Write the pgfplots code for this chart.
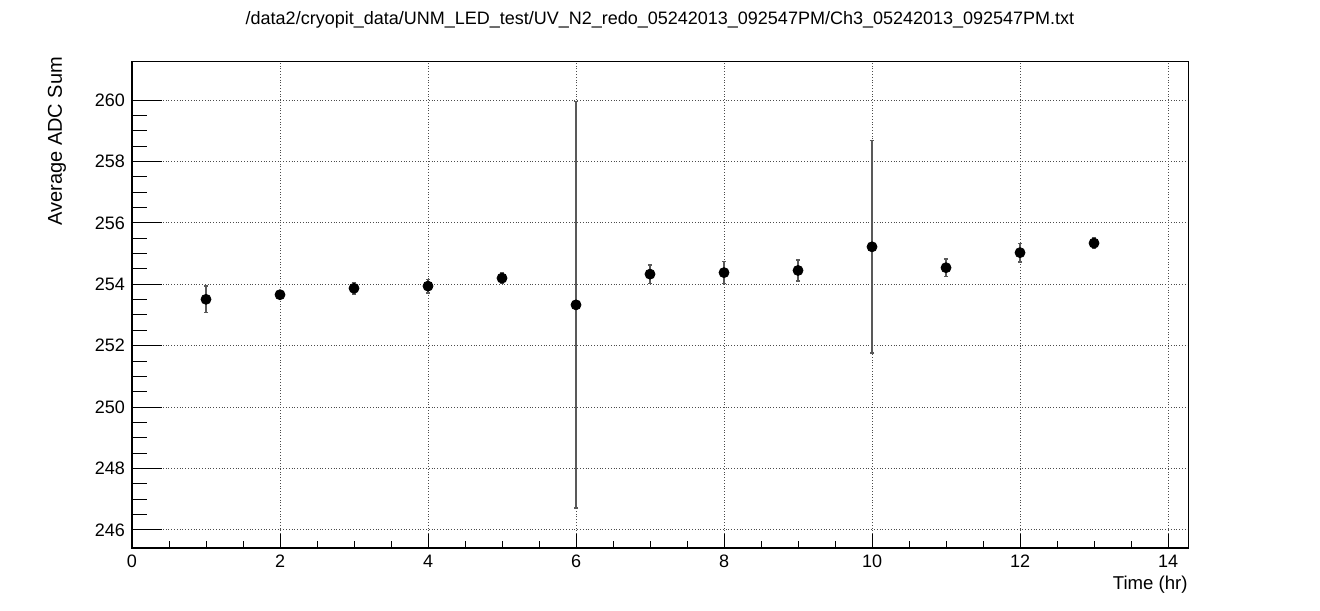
\documentclass[border=0pt]{standalone}
\usepackage{fontspec}
\setmainfont{Liberation Sans}
\usepackage{pgfplots}
\pgfplotsset{compat=1.18}

\pgfplotstableread{
x  y       e
1  253.51  0.43
2  253.66  0.08
3  253.87  0.18
4  253.94  0.22
5  254.20  0.17
6  253.33  6.62
7  254.33  0.30
8  254.38  0.36
9  254.45  0.34
10 255.22  3.46
11 254.54  0.28
12 255.03  0.30
13 255.34  0.16
}\adcdata

\begin{document}
\begin{tikzpicture}
\begin{axis}[
    at={(0,0)}, anchor=south west,
    scale only axis, width=528pt, height=243pt,
    xmin=0, xmax=14.27, ymin=245.41, ymax=261.24,
    xtick={0,2,...,14}, ytick={246,248,...,260},
    minor x tick num=3, minor y tick num=3,
    tick pos=left, tick align=inside,
    xtick style={/pgfplots/major tick length=7pt, /pgfplots/minor tick length=3.5pt, black, line width=0.5pt},
    ytick style={/pgfplots/major tick length=15pt, /pgfplots/minor tick length=7.5pt, black, line width=0.5pt},
    grid=major,
    grid style={densely dotted, black!70, line width=0.45pt},
    axis line style={line width=0.5pt},
    tick label style={font=\fontsize{9}{10.5}\selectfont},
    /pgf/number format/assume math mode=true,
    xlabel={Time (hr)},
    xlabel style={at={(axis description cs:1,-0.075)}, anchor=east, inner sep=0pt, font=\fontsize{9.3}{10.5}\selectfont},
    ylabel={Average ADC Sum},
    ylabel style={at={(axis description cs:-0.071,1.025)}, anchor=east, font=\fontsize{10}{11.5}\selectfont},
    title={/data2/cryopit\_data/UNM\_LED\_test/UV\_N2\_redo\_05242013\_092547PM/Ch3\_05242013\_092547PM.txt},
    title style={at={(axis description cs:0.5,1)}, anchor=center, yshift=15pt, font=\fontsize{9}{10.5}\selectfont},
]
\addplot+[only marks, black, mark=*, mark size=2.5pt,
    mark options={fill=black, draw=black},
    error bars/.cd, y dir=both, y explicit,
    error bar style={black!65, line width=0.75pt},
    error mark options={rotate=90, mark size=1.1pt, black!65, line width=0.75pt}]
    table[x=x, y=y, y error=e] {\adcdata};
\end{axis}
\draw[line width=1pt] (0,243pt) -- (0,0) -- (528pt,0);
\pgfresetboundingbox
\useasboundingbox (-66pt,-31pt) rectangle (594pt,274pt);
\end{tikzpicture}
\end{document}
